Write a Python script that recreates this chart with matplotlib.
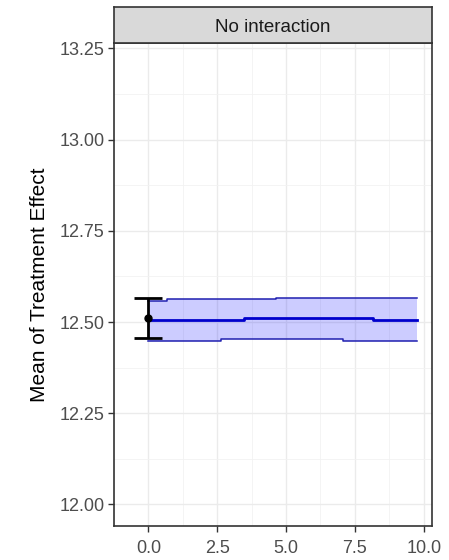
import numpy as np
import matplotlib.pyplot as plt

plt.rcParams['font.family'] = ['Liberation Sans', 'DejaVu Sans']

# step breakpoints and ribbon / mean values
x_steps = [0.0, 0.67, 2.63, 3.46, 4.64, 7.06, 8.17, 9.75]
upper = [12.559, 12.562, 12.562, 12.562, 12.567, 12.567, 12.567, 12.567]
mean = [12.506, 12.506, 12.506, 12.511, 12.511, 12.511, 12.506, 12.506]
lower = [12.448, 12.448, 12.453, 12.453, 12.453, 12.448, 12.448, 12.448]

# observed estimate at time zero
obs_x = 0.0
obs_mean = 12.51
obs_lo = 12.456
obs_hi = 12.566

panel_title = "No interaction"
x_ticks = [0.0, 2.5, 5.0, 7.5, 10.0]
y_ticks = [12.00, 12.25, 12.50, 12.75, 13.00, 13.25]

W, H = 449, 560
fig = plt.figure(figsize=(W / 100, H / 100), dpi=100)
left, right, top, bottom = 114, 432, 43, 526
ax = fig.add_axes([left / W, 1 - bottom / H, (right - left) / W, (bottom - top) / H])

ax.fill_between(x_steps, lower, upper, step='post', color='#0000ff', alpha=0.2, lw=0, zorder=2)
ax.plot(x_steps, upper, drawstyle='steps-post', color='#2020b0', lw=1.1, zorder=3)
ax.plot(x_steps, lower, drawstyle='steps-post', color='#2020b0', lw=1.1, zorder=3)
ax.plot(x_steps, mean, drawstyle='steps-post', color='#0000cc', lw=2, zorder=4)

ax.errorbar([obs_x], [obs_mean], yerr=[[obs_mean - obs_lo], [obs_hi - obs_mean]],
            fmt='o', color='black', ms=5, capsize=10, capthick=2, elinewidth=2, zorder=5)

ax.set_xlim(-1.02, 10.3)
ax.set_ylim(11.941, 13.265)
ax.set_xticks(x_ticks)
ax.set_xticklabels([f"{v:.1f}" for v in x_ticks])
ax.set_yticks(y_ticks)
ax.set_yticklabels([f"{v:.2f}" for v in y_ticks])
ax.set_xticks(np.arange(-1.25, 10.5, 2.5), minor=True)
ax.set_yticks(np.arange(12.125, 13.25, 0.25), minor=True)
ax.grid(True, which='major', color='#ebebeb', lw=1.0, zorder=0)
ax.grid(True, which='minor', color='#f2f2f2', lw=0.6, zorder=0)
ax.set_axisbelow(True)
ax.tick_params(which='major', length=4, width=1, color='#333333', labelsize=13,
               labelcolor='#4d4d4d', pad=3)
ax.tick_params(axis='x', which='major', pad=6)
ax.tick_params(which='minor', length=0)
for s in ax.spines.values():
    s.set_color('#333333')
    s.set_linewidth(1.2)

ax.set_ylabel("Mean of Treatment Effect", fontsize=15, color='black', labelpad=7)

# facet strip
strip_top = 7
sax = fig.add_axes([left / W, 1 - top / H, (right - left) / W, (top - strip_top) / H])
sax.set_xticks([])
sax.set_yticks([])
sax.set_facecolor('#d9d9d9')
for s in sax.spines.values():
    s.set_color('#333333')
    s.set_linewidth(1.2)
sax.text(0.5, 0.42, panel_title, ha='center', va='center', fontsize=13.5, color='#1a1a1a',
         transform=sax.transAxes)

fig.savefig("out.png", dpi=100)
